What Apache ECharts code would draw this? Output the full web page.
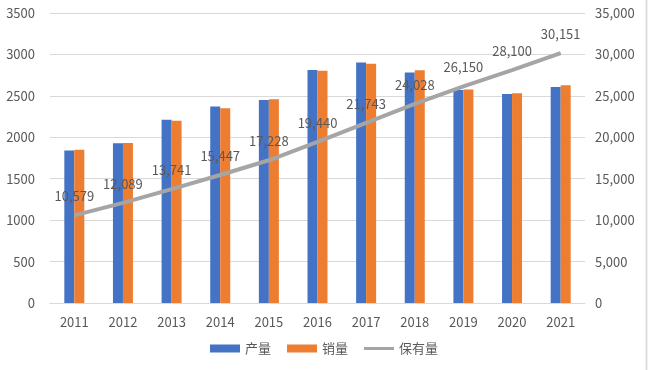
<!DOCTYPE html>
<html>
<head>
<meta charset="utf-8">
<script src="https://cdn.jsdelivr.net/npm/echarts@6/dist/echarts.min.js"></script>
<style>html,body{margin:0;padding:0;background:#fff;}#c{width:648px;height:370px;}</style>
</head>
<body>
<div id="c"></div>
<script>
var categories = ['2011','2012','2013','2014','2015','2016','2017','2018','2019','2020','2021'];
var production = [1841.9, 1927.2, 2211.7, 2372.3, 2450.3, 2811.9, 2901.5, 2780.9, 2572.1, 2522.5, 2608.2];
var sales = [1850.5, 1930.6, 2198.4, 2349.2, 2459.8, 2802.8, 2887.9, 2808.1, 2576.9, 2531.1, 2627.5];
var stock = [10579, 12089, 13741, 15447, 17228, 19440, 21743, 24028, 26150, 28100, 30151];

var font = '"Microsoft YaHei","Noto Sans CJK SC","Noto Sans",sans-serif';
function comma(v){ return String(v).replace(/\B(?=(\d{3})+(?!\d))/g, ','); }
var chart = echarts.init(document.getElementById('c'), null, {renderer: 'canvas'});
chart.setOption({
  animation: false,
  textStyle: {fontFamily: font},
  grid: {left: 50, right: 63, top: 13, bottom: 67, containLabel: false},
  legend: {
    bottom: 10, left: 'center', itemWidth: 30, itemHeight: 8, itemGap: 16,
    textStyle: {color: '#595959', fontSize: 13, fontFamily: font},
    data: [
      {name: '产量', icon: 'rect'},
      {name: '销量', icon: 'rect'},
      {name: '保有量', icon: 'path://M0,0 L30,0 L30,3 L0,3 Z'}
    ]
  },
  graphic: [{type: 'line', shape: {x1: 646.5, y1: 0, x2: 646.5, y2: 370}, style: {stroke: '#DDDDDD', lineWidth: 2}}],
  xAxis: {
    type: 'category', data: categories,
    axisLine: {lineStyle: {color: '#D9D9D9', width: 1}},
    axisTick: {show: false},
    axisLabel: {color: '#595959', fontSize: 13, margin: 13}
  },
  yAxis: [
    {type: 'value', min: 0, max: 3500, interval: 500,
     axisLine: {show: false}, axisTick: {show: false},
     splitLine: {lineStyle: {color: '#D9D9D9'}},
     axisLabel: {color: '#595959', fontSize: 13, margin: 15,
       formatter: function(v){return String(v);}}},
    {type: 'value', min: 0, max: 35000, interval: 5000,
     axisLine: {show: false}, axisTick: {show: false},
     splitLine: {show: false},
     axisLabel: {color: '#595959', fontSize: 13, margin: 10,
       formatter: function(v){return comma(v);}}}
  ],
  series: [
    {name: '产量', type: 'bar', data: production, barWidth: 10, barGap: '0%',
     itemStyle: {color: '#4472C4'}},
    {name: '销量', type: 'bar', data: sales, barWidth: 10, barGap: '0%',
     itemStyle: {color: '#ED7D31'}},
    {name: '保有量', type: 'line', yAxisIndex: 1, data: stock,
     showSymbol: true, symbol: 'circle', symbolSize: 1,
     lineStyle: {color: '#A5A5A5', width: 4},
     itemStyle: {color: '#A5A5A5'},
     label: {show: true, position: 'top', distance: 12, color: '#595959', fontSize: 13,
       formatter: function(p){return comma(p.value);}}}
  ]
});
</script>
</body>
</html>
